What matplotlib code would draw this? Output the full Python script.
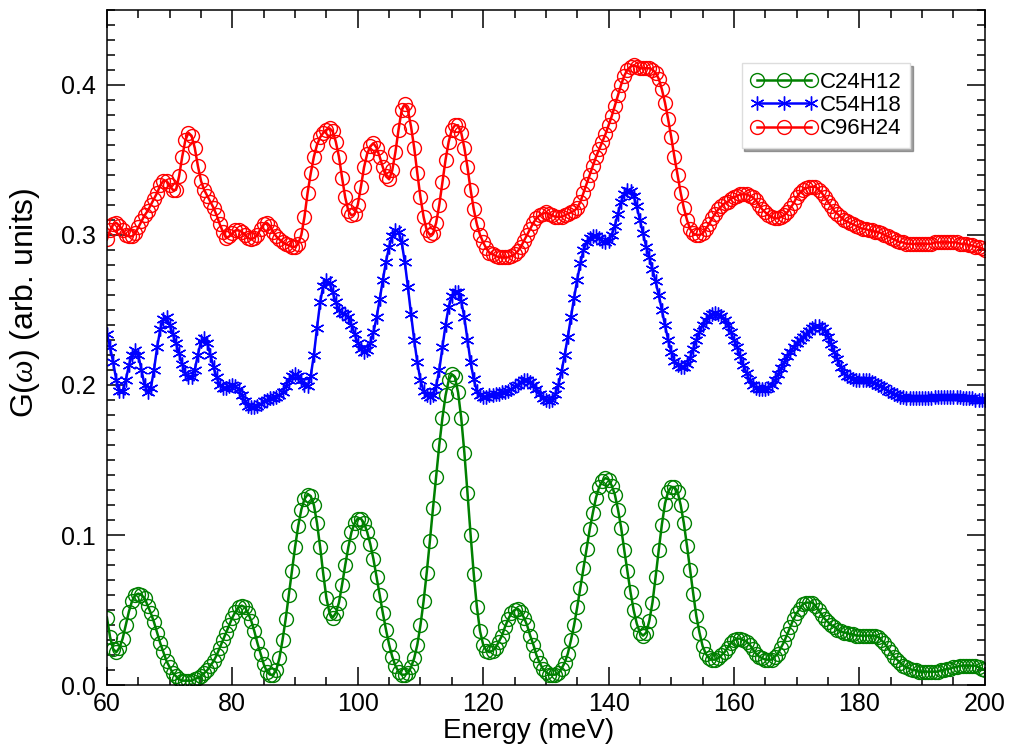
import numpy as np
import matplotlib
matplotlib.use('Agg')
import matplotlib.pyplot as plt
from matplotlib.ticker import MultipleLocator, FormatStrFormatter

plt.rcParams['font.family'] = ['Liberation Sans', 'DejaVu Sans']
plt.rcParams['mathtext.fontset'] = 'custom'
plt.rcParams['mathtext.it'] = 'Liberation Serif:italic'

# energia (meV), passo de 0.5 meV (60 ... 200)
energy = np.linspace(60, 200, 281)

# C24H12, uma linha = 5 meV
g_c24h12 = [
    0.045, 0.032, 0.024, 0.022, 0.025, 0.031, 0.040, 0.049, 0.056, 0.060,
    0.061, 0.060, 0.058, 0.053, 0.048, 0.042, 0.035, 0.028, 0.022, 0.016,
    0.012, 0.008, 0.006, 0.004, 0.003, 0.003, 0.003, 0.003, 0.004, 0.005,
    0.006, 0.008, 0.010, 0.013, 0.016, 0.020, 0.025, 0.030, 0.035, 0.040,
    0.045, 0.049, 0.052, 0.053, 0.052, 0.048, 0.043, 0.036, 0.028, 0.021,
    0.014, 0.009, 0.007, 0.007, 0.010, 0.018, 0.030, 0.044, 0.060, 0.076,
    0.092, 0.106, 0.117, 0.124, 0.127, 0.126, 0.120, 0.108, 0.092, 0.074,
    0.058, 0.048, 0.045, 0.048, 0.055, 0.067, 0.080, 0.092, 0.102, 0.108,
    0.111, 0.111, 0.108, 0.102, 0.094, 0.084, 0.072, 0.060, 0.048, 0.037,
    0.027, 0.019, 0.013, 0.009, 0.007, 0.007, 0.008, 0.012, 0.018, 0.027,
    0.040, 0.056, 0.075, 0.096, 0.118, 0.139, 0.160, 0.178, 0.193, 0.203,
    0.207, 0.205, 0.195, 0.178, 0.155, 0.128, 0.100, 0.074, 0.052, 0.036,
    0.027, 0.023, 0.022, 0.023, 0.025, 0.029, 0.033, 0.039, 0.044, 0.048,
    0.050, 0.051, 0.049, 0.045, 0.040, 0.033, 0.027, 0.020, 0.015, 0.011,
    0.009, 0.007, 0.007, 0.007, 0.008, 0.011, 0.015, 0.021, 0.030, 0.040,
    0.052, 0.065, 0.078, 0.091, 0.104, 0.115, 0.125, 0.132, 0.136, 0.138,
    0.137, 0.133, 0.127, 0.117, 0.105, 0.090, 0.076, 0.062, 0.050, 0.041,
    0.035, 0.033, 0.035, 0.043, 0.055, 0.072, 0.090, 0.107, 0.121, 0.129,
    0.132, 0.132, 0.129, 0.120, 0.108, 0.093, 0.077, 0.061, 0.046, 0.035,
    0.026, 0.021, 0.018, 0.017, 0.017, 0.018, 0.020, 0.022, 0.025, 0.028,
    0.030, 0.031, 0.031, 0.030, 0.029, 0.027, 0.024, 0.021, 0.019, 0.018,
    0.017, 0.017, 0.017, 0.019, 0.021, 0.025, 0.029, 0.034, 0.039, 0.044,
    0.048, 0.051, 0.054, 0.055, 0.055, 0.055, 0.053, 0.050, 0.047, 0.044,
    0.042, 0.040, 0.039, 0.037, 0.036, 0.035, 0.035, 0.034, 0.034, 0.033,
    0.033, 0.033, 0.033, 0.033, 0.033, 0.033, 0.032, 0.030, 0.028, 0.025,
    0.022, 0.019, 0.017, 0.015, 0.013, 0.012, 0.011, 0.010, 0.010, 0.009,
    0.009, 0.009, 0.009, 0.009, 0.009, 0.009, 0.010, 0.010, 0.011, 0.011,
    0.012, 0.012, 0.013, 0.013, 0.013, 0.013, 0.013, 0.013, 0.012, 0.011,
    0.010,
]

# C54H18
g_c54h18 = [
    0.234, 0.225, 0.215, 0.203, 0.196, 0.196, 0.203, 0.213, 0.220, 0.223,
    0.220, 0.210, 0.200, 0.195, 0.198, 0.210, 0.225, 0.237, 0.244, 0.245,
    0.240, 0.234, 0.228, 0.221, 0.214, 0.208, 0.205, 0.205, 0.210, 0.220,
    0.229, 0.231, 0.228, 0.220, 0.212, 0.205, 0.200, 0.198, 0.198, 0.199,
    0.200, 0.199, 0.197, 0.193, 0.189, 0.186, 0.185, 0.185, 0.186, 0.187,
    0.189, 0.190, 0.191, 0.191, 0.192, 0.193, 0.195, 0.199, 0.203, 0.206,
    0.207, 0.206, 0.203, 0.200, 0.199, 0.206, 0.220, 0.238, 0.255, 0.266,
    0.270, 0.268, 0.262, 0.255, 0.250, 0.248, 0.247, 0.245, 0.240, 0.234,
    0.228, 0.224, 0.222, 0.223, 0.228, 0.235, 0.245, 0.257, 0.270, 0.282,
    0.292, 0.299, 0.303, 0.302, 0.295, 0.282, 0.265, 0.247, 0.230, 0.215,
    0.203, 0.196, 0.193, 0.192, 0.193, 0.199, 0.210, 0.225, 0.240, 0.252,
    0.259, 0.262, 0.262, 0.256, 0.245, 0.230, 0.215, 0.204, 0.196, 0.193,
    0.192, 0.192, 0.193, 0.193, 0.194, 0.194, 0.195, 0.195, 0.196, 0.197,
    0.199, 0.200, 0.202, 0.203, 0.203, 0.202, 0.200, 0.197, 0.194, 0.191,
    0.190, 0.189, 0.190, 0.194, 0.200, 0.209, 0.220, 0.232, 0.245, 0.258,
    0.270, 0.281, 0.290, 0.295, 0.298, 0.299, 0.299, 0.298, 0.296, 0.295,
    0.296, 0.300, 0.306, 0.314, 0.322, 0.327, 0.330, 0.329, 0.326, 0.319,
    0.310, 0.301, 0.292, 0.285, 0.277, 0.269, 0.260, 0.250, 0.240, 0.230,
    0.222, 0.216, 0.213, 0.212, 0.212, 0.214, 0.218, 0.224, 0.230, 0.235,
    0.240, 0.243, 0.246, 0.247, 0.248, 0.247, 0.246, 0.243, 0.240, 0.235,
    0.230, 0.225, 0.219, 0.213, 0.208, 0.203, 0.200, 0.198, 0.197, 0.197,
    0.197, 0.198, 0.200, 0.203, 0.207, 0.211, 0.215, 0.219, 0.222, 0.225,
    0.228, 0.230, 0.232, 0.234, 0.236, 0.238, 0.239, 0.239, 0.238, 0.236,
    0.232, 0.227, 0.222, 0.217, 0.212, 0.208, 0.206, 0.205, 0.204, 0.203,
    0.203, 0.203, 0.203, 0.203, 0.202, 0.201, 0.200, 0.199, 0.198, 0.196,
    0.195, 0.194, 0.193, 0.192, 0.192, 0.191, 0.191, 0.191, 0.191, 0.191,
    0.191, 0.191, 0.191, 0.191, 0.192, 0.192, 0.192, 0.192, 0.192, 0.192,
    0.192, 0.192, 0.192, 0.191, 0.191, 0.191, 0.191, 0.190, 0.190, 0.190,
    0.190,
]

# C96H24
g_c96h24 = [
    0.297, 0.303, 0.307, 0.308, 0.306, 0.303, 0.300, 0.299, 0.299, 0.301,
    0.305, 0.309, 0.313, 0.316, 0.320, 0.324, 0.328, 0.333, 0.336, 0.336,
    0.333, 0.330, 0.330, 0.339, 0.352, 0.363, 0.368, 0.366, 0.358, 0.346,
    0.336, 0.330, 0.326, 0.322, 0.318, 0.313, 0.307, 0.302, 0.298, 0.299,
    0.301, 0.303, 0.303, 0.302, 0.300, 0.298, 0.297, 0.298, 0.300, 0.304,
    0.307, 0.308, 0.306, 0.302, 0.299, 0.297, 0.295, 0.294, 0.293, 0.292,
    0.292, 0.294, 0.300, 0.312, 0.328, 0.341, 0.352, 0.360, 0.365, 0.368,
    0.370, 0.371, 0.369, 0.362, 0.352, 0.338, 0.325, 0.316, 0.313, 0.314,
    0.320, 0.332, 0.345, 0.354, 0.359, 0.361, 0.358, 0.352, 0.345, 0.339,
    0.337, 0.343, 0.355, 0.370, 0.383, 0.387, 0.383, 0.372, 0.358, 0.341,
    0.325, 0.312, 0.303, 0.300, 0.301, 0.308, 0.320, 0.335, 0.350, 0.362,
    0.370, 0.373, 0.373, 0.368, 0.358, 0.345, 0.330, 0.317, 0.307, 0.300,
    0.295, 0.291, 0.288, 0.287, 0.286, 0.285, 0.285, 0.285, 0.285, 0.286,
    0.287, 0.289, 0.292, 0.296, 0.300, 0.304, 0.308, 0.311, 0.313, 0.314,
    0.315, 0.314, 0.313, 0.312, 0.312, 0.312, 0.313, 0.314, 0.315, 0.316,
    0.318, 0.322, 0.328, 0.334, 0.340, 0.346, 0.352, 0.357, 0.362, 0.367,
    0.373, 0.379, 0.386, 0.393, 0.400, 0.406, 0.410, 0.412, 0.413, 0.412,
    0.411, 0.411, 0.411, 0.411, 0.410, 0.408, 0.404, 0.397, 0.388, 0.377,
    0.365, 0.352, 0.340, 0.328, 0.318, 0.310, 0.304, 0.301, 0.300, 0.300,
    0.301, 0.304, 0.307, 0.311, 0.314, 0.317, 0.319, 0.321, 0.322, 0.324,
    0.325, 0.326, 0.327, 0.327, 0.327, 0.326, 0.325, 0.323, 0.320, 0.317,
    0.315, 0.313, 0.312, 0.311, 0.311, 0.312, 0.313, 0.315, 0.318, 0.321,
    0.325, 0.328, 0.330, 0.331, 0.332, 0.332, 0.332, 0.330, 0.328, 0.325,
    0.322, 0.319, 0.316, 0.314, 0.312, 0.310, 0.309, 0.308, 0.307, 0.306,
    0.305, 0.304, 0.304, 0.303, 0.303, 0.302, 0.302, 0.301, 0.300, 0.299,
    0.298, 0.297, 0.296, 0.295, 0.295, 0.294, 0.294, 0.294, 0.294, 0.294,
    0.294, 0.294, 0.294, 0.294, 0.295, 0.295, 0.295, 0.295, 0.295, 0.295,
    0.295, 0.295, 0.294, 0.294, 0.294, 0.293, 0.293, 0.292, 0.292, 0.291,
    0.290,
]

fig = plt.figure(figsize=(10.09, 7.48), dpi=100)
ax = fig.add_axes([0.106, 0.084, 0.870, 0.903])

ax.plot(energy, g_c24h12, color='#008000', lw=1.8, marker='o', ms=10,
        mfc='none', mec='#008000', mew=1.0, label='C24H12')
ax.plot(energy, g_c54h18, color='#0000ff', lw=1.8, marker=(6, 2, 0), ms=10,
        mec='#0000ff', mew=1.0, label='C54H18')
ax.plot(energy, g_c96h24, color='#ff0000', lw=1.8, marker='o', ms=10,
        mfc='none', mec='#ff0000', mew=1.0, label='C96H24')

ax.set_xlim(60, 200)
ax.set_ylim(0, 0.45)
ax.xaxis.set_major_locator(MultipleLocator(20))
ax.xaxis.set_minor_locator(MultipleLocator(5))
ax.yaxis.set_major_locator(MultipleLocator(0.1))
ax.yaxis.set_minor_locator(MultipleLocator(0.01))
ax.yaxis.set_major_formatter(FormatStrFormatter('%.1f'))
ax.tick_params(which='both', direction='in', top=True, right=True, width=1.1)
ax.tick_params(which='major', length=13, labelsize=18)
ax.tick_params(axis='x', which='major', pad=5)
ax.tick_params(axis='y', which='major', pad=8)
ax.tick_params(which='minor', length=6)
for s in ax.spines.values():
    s.set_linewidth(1.1)

ax.set_xlabel('Energy (meV)', fontsize=20)
ax.xaxis.set_label_coords(0.48, -0.049)
ax.set_ylabel(r'G($\omega$) (arb. units)', fontsize=23)
ax.yaxis.set_label_coords(-0.074, 0.567)

leg = ax.legend(loc='upper left', bbox_to_anchor=(0.723, 0.921),
                borderaxespad=0, numpoints=3, handlelength=3.0,
                handletextpad=0.1, labelspacing=0.1, fontsize=16,
                fancybox=False, shadow=True, edgecolor='#dddddd',
                borderpad=0.4)

fig.savefig('out.png', dpi=100)
